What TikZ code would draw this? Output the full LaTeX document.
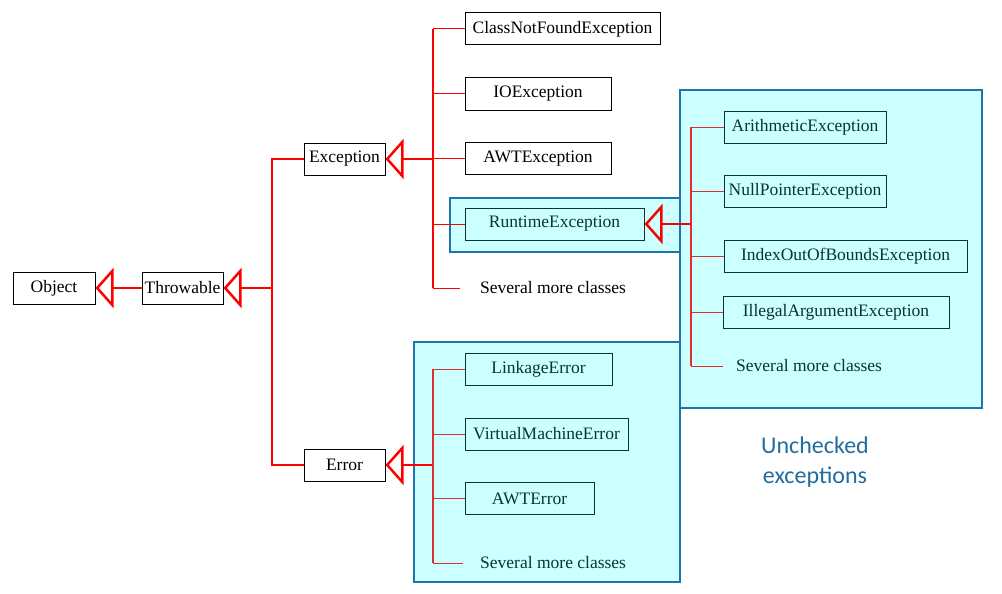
\documentclass[tikz,border=0pt]{standalone}
\usepackage{fontspec}
\setmainfont{Liberation Serif}
\newfontfamily\notefont{Carlito}
\usetikzlibrary{arrows.meta}
\definecolor{grpfill}{HTML}{CCFFFF}
\definecolor{grpdraw}{HTML}{1C75A6}
\definecolor{darkcls}{HTML}{0A3333}
\definecolor{inred}{HTML}{DD2E2E}
\definecolor{noteblue}{HTML}{1F6E9E}

\begin{document}
\begin{tikzpicture}[x=1pt, y=-1pt,
    cls/.style={rectangle, draw=black, fill=white, line width=1pt, minimum height=32pt, inner sep=0pt, font=\rmfamily\fontsize{17.5}{20}\selectfont},
    ucls/.style={cls, draw=darkcls, fill=grpfill, text=darkcls},
    more/.style={anchor=west, inner sep=0pt, inner xsep=17pt, font=\rmfamily\fontsize{17.5}{20}\selectfont},
    gen/.style={draw=red, line width=2.5pt, -{Triangle[open, length=18pt, width=40pt]}},
    trunk/.style={draw=red, line width=2.5pt},
    branch/.style={draw=red, line width=1pt},
    ubranch/.style={draw=inred, line width=1pt},
    group/.style={draw=grpdraw, fill=grpfill, line width=2pt}]

    \useasboundingbox (0,0) rectangle (1002,594);

    % shaded groups
    \draw[group] (680,90) rectangle (982,408);
    \draw[group] (414,342) rectangle (680,582);
    \draw[group] (450,198) rectangle (680,252);

    % classes
    \node[cls, minimum width=82pt] (obj) at (54,288) {Object};
    \node[cls, minimum width=81pt] (throw) at (182.5,288) {Throwable};
    \node[cls, minimum width=81pt] (exc) at (344.5,159) {Exception};
    \node[cls, minimum width=81pt] (err) at (344.5,465) {Error};

    \node[cls, minimum width=195pt] (cnf) at (562.5,29) {ClassNotFoundException};
    \node[cls, minimum width=146pt] (ioe) at (538,94) {IOException};
    \node[cls, minimum width=146pt] (awte) at (538,158.5) {AWTException};
    \node[ucls, minimum width=179pt] (rte) at (554.5,224) {RuntimeException};
    \node[more, inner xsep=20pt] (more1) at (460,288) {Several more classes};

    \node[ucls, minimum width=162pt] (arith) at (805,127) {ArithmeticException};
    \node[ucls, minimum width=162pt] (npe) at (805,191.5) {NullPointerException};
    \node[ucls, minimum width=243pt] (ioob) at (845.5,256) {IndexOutOfBoundsException};
    \node[ucls, minimum width=226pt] (iae) at (836,312) {IllegalArgumentException};
    \node[more, text=darkcls, inner xsep=13pt] (more2) at (723,366) {Several more classes};

    \node[ucls, minimum width=147pt] (link) at (538.5,369) {LinkageError};
    \node[ucls, minimum width=163pt] (vme) at (546.5,434) {VirtualMachineError};
    \node[ucls, minimum width=129pt] (awterr) at (529.5,498.5) {AWTError};
    \node[more, text=darkcls] (more3) at (463,563) {Several more classes};

    \node[font=\notefont\fontsize{24}{30}\selectfont, text=noteblue, align=center] (note) at (815,462) {Unchecked\\exceptions};

    % junctions
    \coordinate (tj) at (272,288);
    \coordinate (ej) at (433,159);
    \coordinate (rj) at (433,465);
    \coordinate (uj) at (691,224);

    % Throwable level
    \draw[gen] (throw) -- (obj);
    \draw[gen] (tj) -- (throw);
    \draw[trunk] (exc.west) -| (tj) |- (err.west);

    % Exception level
    \draw[gen] (ej) -- (exc);
    \draw[trunk, line width=2pt] (ej |- cnf) -- (ej |- more1);
    \foreach \c in {cnf, ioe, awte, rte, more1}
        \draw[branch] (ej |- \c.west) -- (\c.west);

    % RuntimeException level
    \draw[gen] (uj) -- (rte);
    \draw[ubranch, line width=2pt] (uj |- arith) -- (uj |- more2);
    \foreach \c in {arith, npe, ioob, iae, more2}
        \draw[ubranch] (uj |- \c.west) -- (\c.west);

    % Error level
    \draw[gen] (rj) -- (err);
    \draw[ubranch, line width=2pt] (rj |- link) -- (rj |- more3);
    \foreach \c in {link, vme, awterr, more3}
        \draw[ubranch] (rj |- \c.west) -- (\c.west);
\end{tikzpicture}
\end{document}
